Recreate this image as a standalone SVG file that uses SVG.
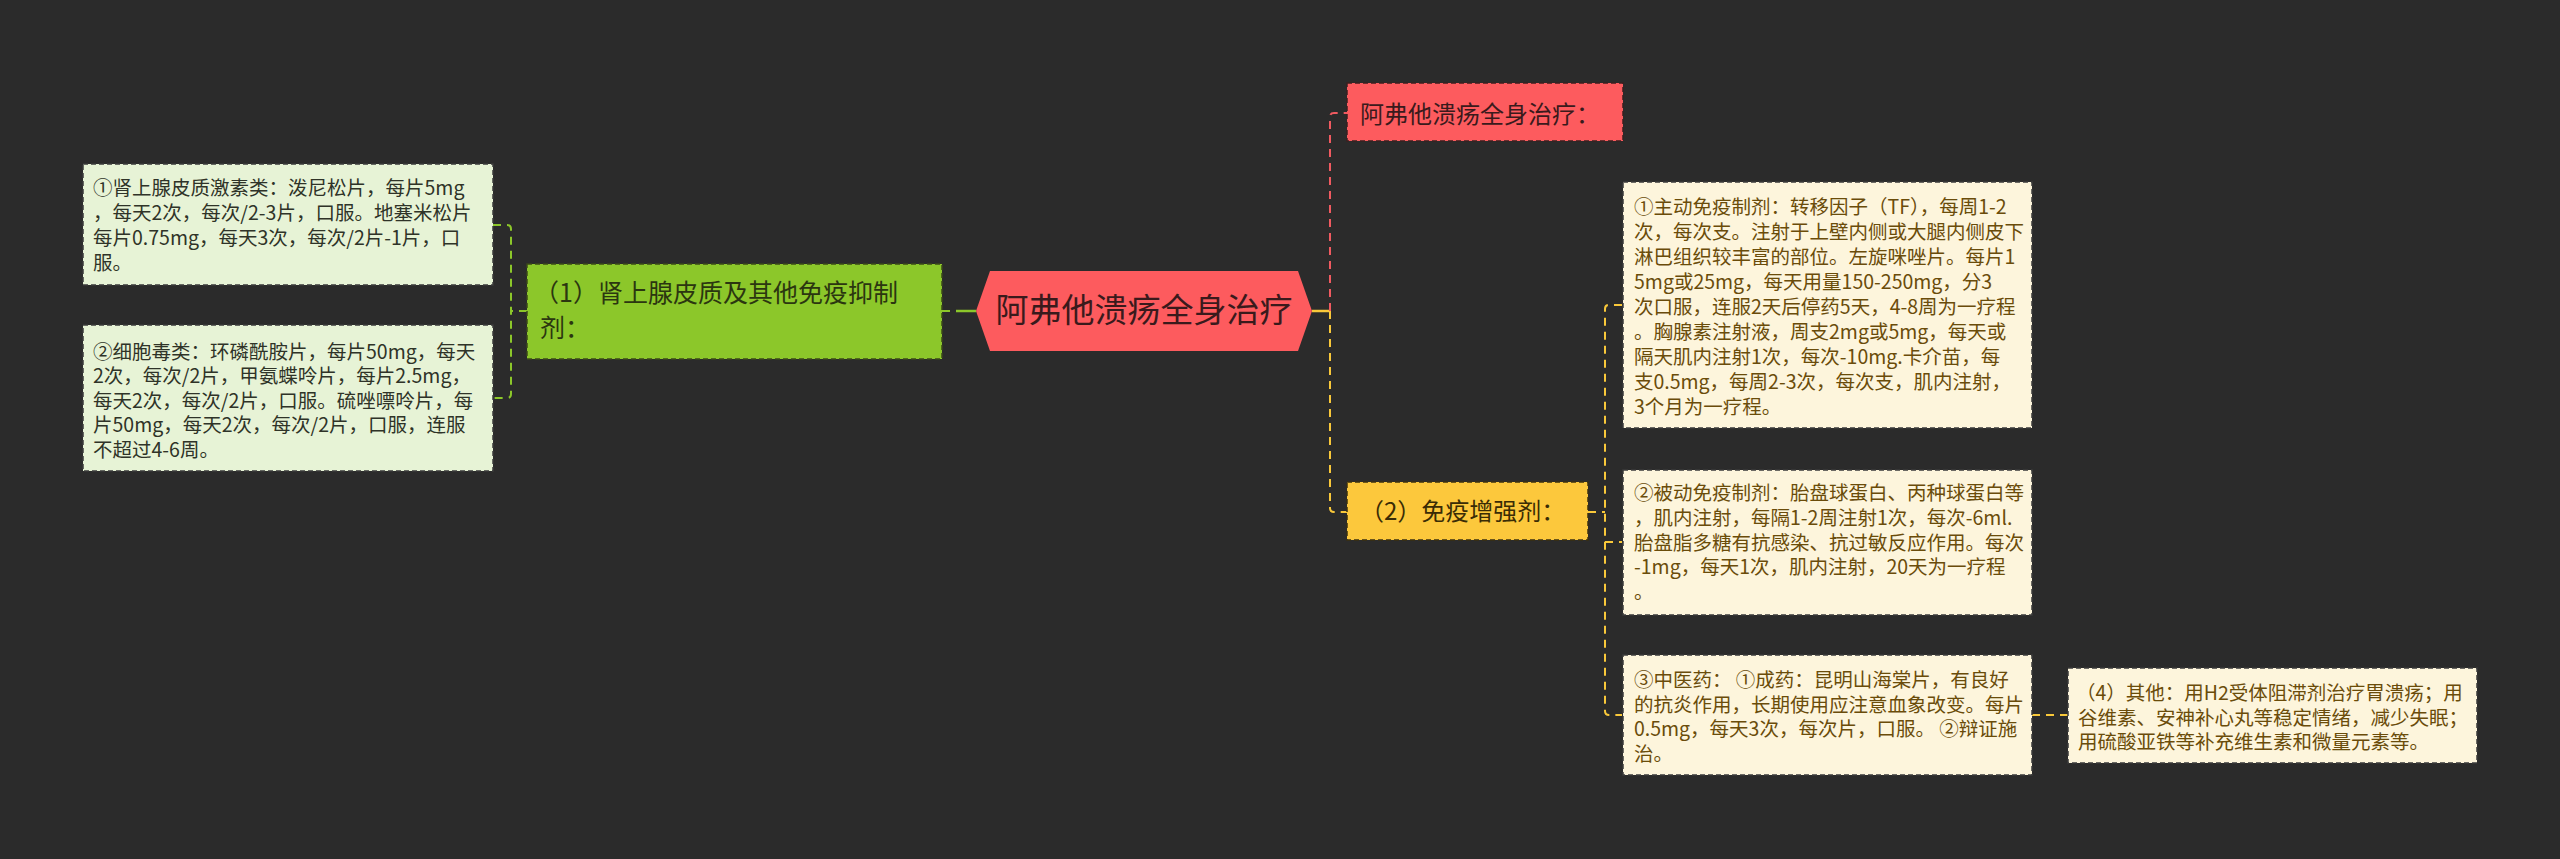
<svg xmlns="http://www.w3.org/2000/svg" width="2560" height="859" viewBox="0 0 2560 859">
<style>
text{font-family:"Microsoft YaHei","Noto Sans CJK SC","Noto Sans",sans-serif;}
.leaf{fill:#e7f3d6;stroke:#3b3b3b;stroke-width:1.5;stroke-dasharray:5 3;}
.cream{fill:#fdf5dc;stroke:#3b3b3b;stroke-width:1.5;stroke-dasharray:5 3;}
.lt{font-size:19.5px;fill:#2f3328;}
.rt{font-size:19.5px;fill:#6a4c0a;}
.g{stroke:#8cc72a;stroke-width:2;fill:none;stroke-dasharray:8 6;}
.r{stroke:#f05a60;stroke-width:2;fill:none;stroke-dasharray:8 6;}
.y{stroke:#f9c83a;stroke-width:2;fill:none;stroke-dasharray:8 6;}
</style>
<rect width="2560" height="859" fill="#2b2b2b"/>
<g id="connectors">
<path class="g" d="M527 311 H511"/>
<path class="g" d="M493 225 H507 Q511 225 511 229 V394 Q511 398 507 398 H493"/>
<path class="g" d="M942 311 H958"/>
<path d="M956 311 H976" stroke="#8cc72a" stroke-width="2.5" fill="none"/>
<path d="M1312 311 H1330" stroke="#f9c83a" stroke-width="2.5" fill="none"/>
<path class="r" d="M1330 311 V117 Q1330 113 1334 113 H1347"/>
<path class="y" d="M1330 311 V508 Q1330 512 1334 512 H1347"/>
<path class="y" d="M1588 512 H1605"/>
<path class="y" d="M1622 305 H1609 Q1605 305 1605 309 V711 Q1605 715 1609 715 H1622"/>
<path class="y" d="M1605 542 H1622"/>
<path class="y" d="M2032 715 H2068"/>
</g>
<g id="root">
<polygon points="976,311 990,271 1298,271 1312,311 1298,351 990,351" fill="#fd5b5e"/>
<text x="1144" y="322" font-size="33" fill="#3a1a1c" text-anchor="middle">阿弗他溃疡全身治疗</text>
</g>
<g id="n1">
<rect x="527" y="264" width="415" height="95" fill="#8cc72a" stroke="#3b4a1a" stroke-width="1.5" stroke-dasharray="5 3"/>
<text x="534" y="302" font-size="25" fill="#2b3610"><tspan x="534" y="302">（1）肾上腺皮质及其他免疫抑制</tspan><tspan x="540" y="337">剂：</tspan></text>
</g>
<g id="n1a">
<rect class="leaf" x="83" y="164" width="410" height="121"/>
<text class="lt"><tspan x="93" y="195">①肾上腺皮质激素类：泼尼松片，每片5mg</tspan><tspan x="93" y="220">，每天2次，每次/2-3片，口服。地塞米松片</tspan><tspan x="93" y="245">每片0.75mg，每天3次，每次/2片-1片，口</tspan><tspan x="93" y="270">服。</tspan></text>
</g>
<g id="n1b">
<rect class="leaf" x="83" y="325" width="410" height="146"/>
<text class="lt"><tspan x="93" y="359">②细胞毒类：环磷酰胺片，每片50mg，每天</tspan><tspan x="93" y="383">2次，每次/2片，甲氨蝶呤片，每片2.5mg，</tspan><tspan x="93" y="408">每天2次，每次/2片，口服。硫唑嘌呤片，每</tspan><tspan x="93" y="432">片50mg，每天2次，每次/2片，口服，连服</tspan><tspan x="93" y="457">不超过4-6周。</tspan></text>
</g>
<g id="n2">
<rect x="1347" y="83" width="276" height="58" fill="#fd5b5e" stroke="#3b2020" stroke-width="1.5" stroke-dasharray="5 3"/>
<text x="1360" y="123" font-size="24" fill="#3a1a1c">阿弗他溃疡全身治疗：</text>
</g>
<g id="n3">
<rect x="1347" y="482" width="241" height="58" fill="#fcc83c" stroke="#3b3010" stroke-width="1.5" stroke-dasharray="5 3"/>
<text x="1360" y="520" font-size="24" fill="#3a2c05">（2）免疫增强剂：</text>
</g>
<g id="n3a">
<rect class="cream" x="1623" y="182" width="409" height="246"/>
<text class="rt"><tspan x="1634" y="214">①主动免疫制剂：转移因子（TF），每周1-2</tspan><tspan x="1634" y="239">次，每次支。注射于上壁内侧或大腿内侧皮下</tspan><tspan x="1634" y="264">淋巴组织较丰富的部位。左旋咪唑片。每片1</tspan><tspan x="1634" y="289">5mg或25mg，每天用量150-250mg，分3</tspan><tspan x="1634" y="314">次口服，连服2天后停药5天，4-8周为一疗程</tspan><tspan x="1634" y="339">。胸腺素注射液，周支2mg或5mg，每天或</tspan><tspan x="1634" y="364">隔天肌内注射1次，每次-10mg.卡介苗，每</tspan><tspan x="1634" y="389">支0.5mg，每周2-3次，每次支，肌内注射，</tspan><tspan x="1634" y="414">3个月为一疗程。</tspan></text>
</g>
<g id="n3b">
<rect class="cream" x="1623" y="470" width="409" height="145"/>
<text class="rt"><tspan x="1634" y="500">②被动免疫制剂：胎盘球蛋白、丙种球蛋白等</tspan><tspan x="1634" y="525">，肌内注射，每隔1-2周注射1次，每次-6ml.</tspan><tspan x="1634" y="550">胎盘脂多糖有抗感染、抗过敏反应作用。每次</tspan><tspan x="1634" y="574">-1mg，每天1次，肌内注射，20天为一疗程</tspan><tspan x="1634" y="599">。</tspan></text>
</g>
<g id="n3c">
<rect class="cream" x="1623" y="655" width="409" height="120"/>
<text class="rt"><tspan x="1634" y="687">③中医药： ①成药：昆明山海棠片，有良好</tspan><tspan x="1634" y="712">的抗炎作用，长期使用应注意血象改变。每片</tspan><tspan x="1634" y="736">0.5mg，每天3次，每次片，口服。 ②辩证施</tspan><tspan x="1634" y="761">治。</tspan></text>
</g>
<g id="n4">
<rect class="cream" x="2068" y="668" width="409" height="95"/>
<text class="rt"><tspan x="2076" y="700">（4）其他：用H2受体阻滞剂治疗胃溃疡；用</tspan><tspan x="2078" y="725">谷维素、安神补心丸等稳定情绪，减少失眠；</tspan><tspan x="2078" y="749">用硫酸亚铁等补充维生素和微量元素等。</tspan></text>
</g>
</svg>
